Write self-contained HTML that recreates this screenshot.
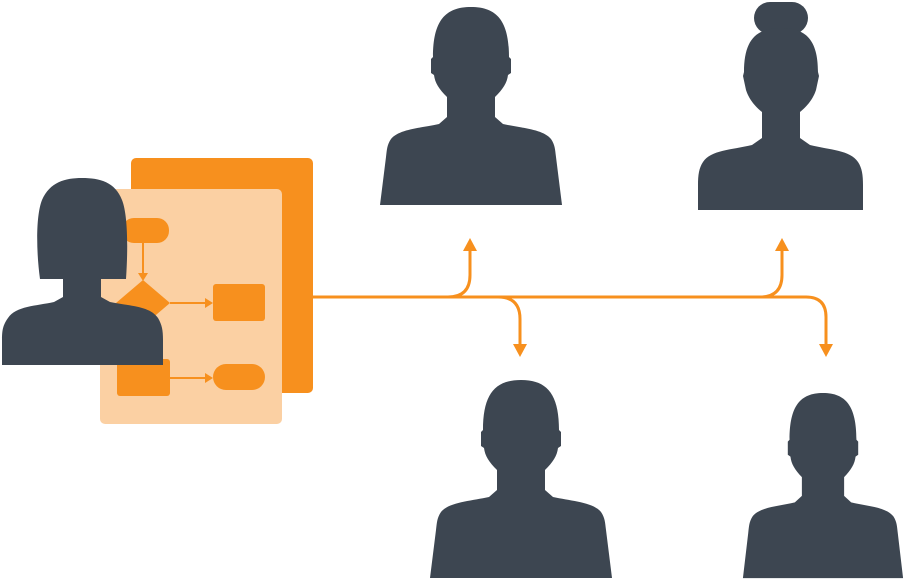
<!DOCTYPE html>
<html><head><meta charset="utf-8"><style>html,body{margin:0;padding:0;background:#fff}svg{display:block}</style></head>
<body>
<svg width="904" height="580" viewBox="0 0 904 580" xmlns="http://www.w3.org/2000/svg">
<defs>
<path id="man" d="M-24 90 C-32 82,-36 76,-37 68 L-40 66 L-40 52 L-38 50 C-38 14,-26 0,0 0 C26 0,38 14,38 50 L40 52 L40 66 L37 68 C36 76,32 82,24 90 L24 110 L32 117 C50 121,72 122,80 132 C84 138,84 142,85 150 L91 198 L-91 198 L-85 150 C-84 142,-84 138,-80 132 C-72 122,-50 121,-32 117 L-24 110 Z" fill="#3d4651"/>
</defs>
<!-- documents -->
<rect x="131" y="158" width="182" height="235" rx="5" fill="#f7901e"/>
<rect x="100" y="189" width="182" height="235" rx="5" fill="#fbd0a3"/>
<rect x="122" y="218" width="47" height="25" rx="12" fill="#f7901e"/>
<line x1="143" y1="243" x2="143" y2="274" stroke="#f7901e" stroke-width="2"/>
<polygon points="138,273 148,273 143,281" fill="#f7901e"/>
<polygon points="143,280 170,303 143,326 116,303" fill="#f7901e"/>
<line x1="170" y1="303" x2="207" y2="303" stroke="#f7901e" stroke-width="2"/>
<polygon points="205,298 213,303 205,308" fill="#f7901e"/>
<rect x="213" y="284" width="52" height="37" rx="3" fill="#f7901e"/>
<rect x="117" y="359" width="53" height="37" rx="3" fill="#f7901e"/>
<line x1="170" y1="378" x2="207" y2="378" stroke="#f7901e" stroke-width="2"/>
<polygon points="205,373 213,378 205,383" fill="#f7901e"/>
<rect x="213" y="364" width="52" height="26" rx="13" fill="#f7901e"/>
<!-- woman left -->
<path d="M63 279 L40 279 C36 250,36 215,42 200 C50 182,65 178,82 178 C100 178,115 182,122 200 C128 215,128 250,126 279 L101 279 L101 297 L110 302 C130 306,150 306,158 318 C162 325,163 330,163 340 L163 365 L2 365 L2 340 C2 330,3 325,8 318 C16 306,36 306,54 302 L63 297 Z" fill="#3d4651"/>
<!-- connectors -->
<g fill="none" stroke="#f7901e" stroke-width="3">
<path d="M313 297 H806 Q826 297 826 317 V345"/>
<path d="M448 297 Q470 297 470 275 V250"/>
<path d="M498 297 Q520 297 520 319 V345"/>
<path d="M760 297 Q782 297 782 275 V250"/>
</g>
<g fill="#f7901e">
<polygon points="463,251 477,251 470,238"/>
<polygon points="775,251 789,251 782,238"/>
<polygon points="513,344 527,344 520,357"/>
<polygon points="819,344 833,344 826,357"/>
</g>
<!-- men -->
<use href="#man" transform="translate(471,7)"/>
<use href="#man" transform="translate(521,380)"/>
<use href="#man" transform="translate(823,393) scale(0.88,0.935)"/>
<!-- woman right -->
<g fill="#3d4651">
<rect x="754" y="2" width="54" height="32" rx="16"/>
<path d="M762 112 C752 104,748 96,746 90 L743 76 L744 72 C744 40,756 28,781 28 C806 28,818 40,818 72 L819 76 L816 90 C814 96,810 104,800 112 L800 138 L810 145 C830 150,850 150,858 162 C862 168,863 175,863 185 L863 210 L698 210 L698 185 C698 175,699 168,703 162 C711 150,731 150,752 145 L762 138 Z"/>
</g>
</svg>
</body></html>
